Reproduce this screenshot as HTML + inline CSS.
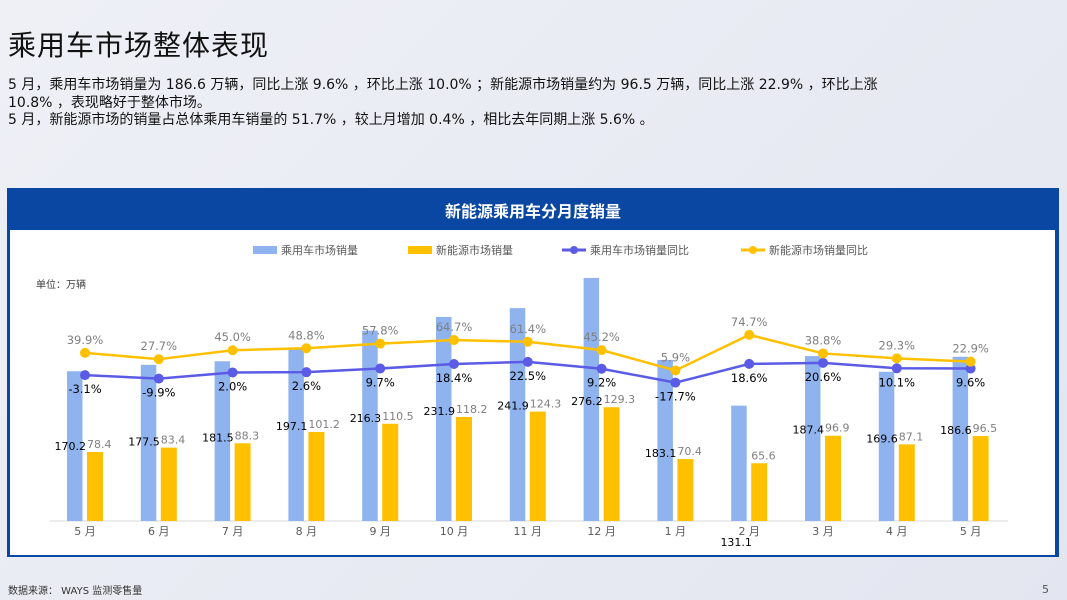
<!DOCTYPE html>
<html><head><meta charset="utf-8">
<style>
html,body{margin:0;padding:0}
body{width:1067px;height:600px;overflow:hidden;background:linear-gradient(135deg,#eef0f6,#e3e6f0);font-family:"DejaVu Sans","Noto Sans CJK SC",sans-serif;position:relative;color:#000}
.title{position:absolute;left:8px;top:24px;font-size:28px;font-weight:normal;color:#111;letter-spacing:1px;font-family:"Noto Sans CJK SC",sans-serif}
.desc{position:absolute;left:8px;top:77px;font-size:14px;line-height:17.5px;white-space:nowrap;color:#111}
.panel{position:absolute;left:7px;top:188px;width:1052px;height:369px;background:#0a47a3}
.phead{position:absolute;left:0;top:0;width:100%;height:42px;color:#fff;font-weight:bold;font-size:16px;text-align:center;line-height:45px;font-family:"Noto Sans CJK SC",sans-serif}
.pbody{position:absolute;left:3px;top:42px;width:1045px;height:325px;background:#fff}
.foot{position:absolute;left:8px;top:582px;font-size:10px;color:#333}
.pg{position:absolute;left:1042px;top:583px;font-size:11px;color:#555}
</style></head><body>
<div class="title">乘用车市场整体表现</div>
<div class="desc">5 月，乘用车市场销量为 186.6 万辆，同比上涨 9.6% ，环比上涨 10.0% ；新能源市场销量约为 96.5 万辆，同比上涨 22.9% ，环比上涨<br>10.8% ，表现略好于整体市场。<br>5 月，新能源市场的销量占总体乘用车销量的 51.7% ，较上月增加 0.4% ，相比去年同期上涨 5.6% 。</div>
<div class="panel">
<div class="phead">新能源乘用车分月度销量</div>
<div class="pbody"></div>
</div>
<svg id="chart" width="1067" height="600" style="position:absolute;left:0;top:0" font-family="DejaVu Sans, Noto Sans CJK SC, sans-serif"></svg>
<div class="foot">数据来源： WAYS 监测零售量</div>
<div class="pg">5</div>
<script>
const categories=["5 月","6 月","7 月","8 月","9 月","10 月","11 月","12 月","1 月","2 月","3 月","4 月","5 月"];
const totalSales=[170.2,177.5,181.5,197.1,216.3,231.9,241.9,276.2,183.1,131.1,187.4,169.6,186.6];
const nevSales=[78.4,83.4,88.3,101.2,110.5,118.2,124.3,129.3,70.4,65.6,96.9,87.1,96.5];
const totalYoY=[-3.1,-9.9,2.0,2.6,9.7,18.4,22.5,9.2,-17.7,18.6,20.6,10.1,9.6];
const nevYoY=[39.9,27.7,45.0,48.8,57.8,64.7,61.4,45.2,5.9,74.7,38.8,29.3,22.9];
const svg=document.getElementById('chart');
const NS='http://www.w3.org/2000/svg';
function mk(t,a,p){const e=document.createElementNS(NS,t);for(const k in a)e.setAttribute(k,a[k]);(p||svg).appendChild(e);return e;}
const base=521;
const xc=i=>85+i*73.8;
const yBar=v=>base-v*0.88;
const yPct=v=>373.5-v*0.517;
let ax=mk('line',{x1:50,x2:1008,y1:base,y2:base,stroke:'#d9d9d9','stroke-width':1});


let u=mk('text',{x:36,y:288,'font-size':10,fill:'#404040'});u.textContent='单位：万辆';


categories.forEach((c,i)=>{
  const x=xc(i);
  let b=mk('rect',{x:x-18,y:yBar(totalSales[i]),width:15.5,height:totalSales[i]*0.88,fill:'#8fb3ee'});
  
  
  let n=mk('rect',{x:x+2,y:yBar(nevSales[i]),width:16,height:nevSales[i]*0.88,fill:'#ffc000'});
  
  
  let t=mk('text',{x:x,y:535,'font-size':11,fill:'#595959','text-anchor':'middle'});t.textContent=c;
  
  
  const yt=yBar(nevSales[i]);
  let lb;
  if(i===9){lb=mk('text',{x:x-13,y:546,'font-size':11,fill:'#000','text-anchor':'middle'});}
  else{lb=mk('text',{x:x+1,y:yt-2,'font-size':11,fill:'#000','text-anchor':'end'});}
  lb.textContent=totalSales[i].toFixed(1);
  
  
  let ln=mk('text',{x:x+2,y:yt-4,'font-size':11,fill:'#808080'});ln.textContent=nevSales[i].toFixed(1);
  
  
});
function line(vals,color,name,labelColor,dy){
  let p=mk('polyline',{points:vals.map((v,i)=>xc(i)+','+yPct(v)).join(' '),fill:'none',stroke:color,'stroke-width':2.5});
  
  
  vals.forEach((v,i)=>{
    let c=mk('circle',{cx:xc(i),cy:yPct(v),r:5,fill:color});
    
    
    let t=mk('text',{x:xc(i),y:yPct(v)+dy,'font-size':11.5,fill:labelColor,'text-anchor':'middle'});
    t.textContent=v.toFixed(1)+'%';
    
    
  });
}
line(totalYoY,'#5b5be6','total-yoy','#000',18);
line(nevYoY,'#ffc000','nev-yoy','#808080',-9);
const lg=[[253,'rect','#8fb3ee','乘用车市场销量'],[408,'rect','#ffc000','新能源市场销量'],[562,'line','#5b5be6','乘用车市场销量同比'],[741,'line','#ffc000','新能源市场销量同比']];
lg.forEach(l=>{
  let g=mk('g',{});
  
  
  if(l[1]==='rect')mk('rect',{x:l[0],y:246,width:24,height:8,fill:l[2]},g);
  else{mk('line',{x1:l[0],x2:l[0]+24,y1:250,y2:250,stroke:l[2],'stroke-width':3},g);mk('circle',{cx:l[0]+12,cy:250,r:4,fill:l[2]},g);}
  let t=mk('text',{x:l[0]+28,y:254,'font-size':11,fill:'#595959'},g);t.textContent=l[3];
});
</script>
</body></html>
